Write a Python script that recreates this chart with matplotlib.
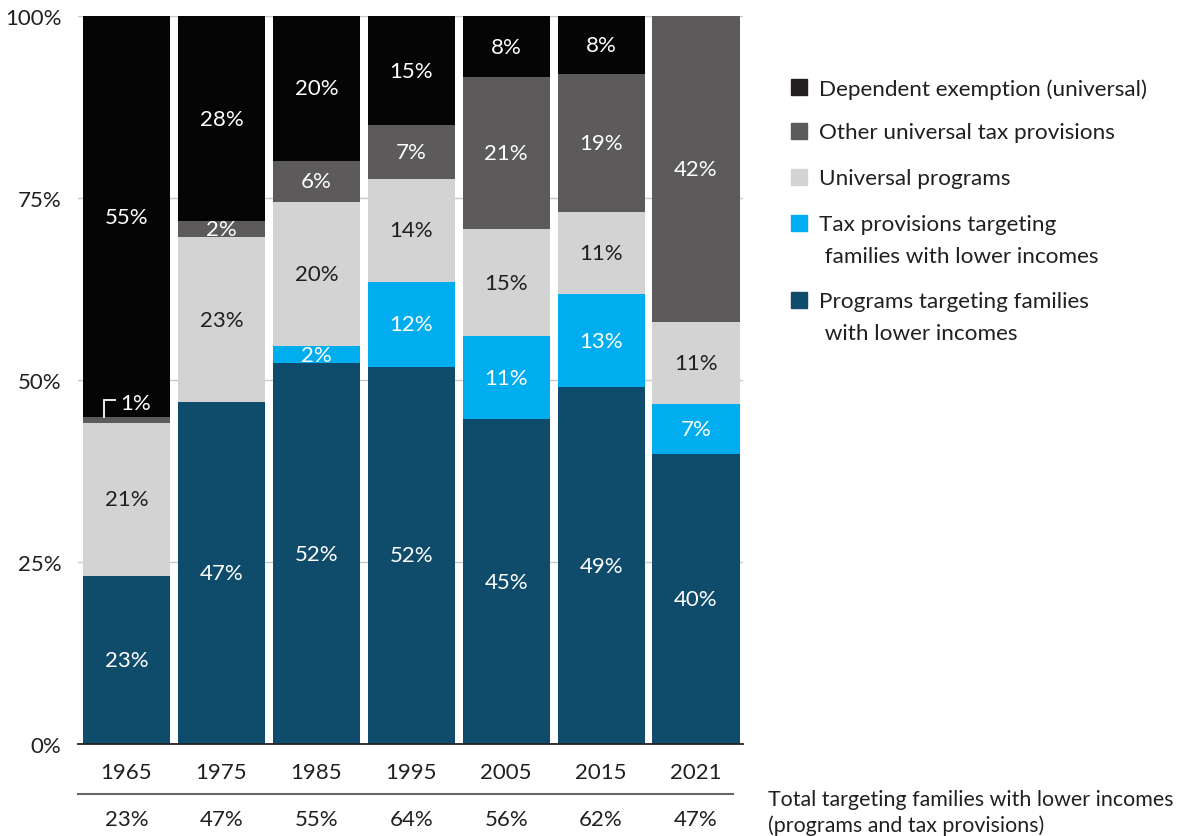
import matplotlib
matplotlib.use('Agg')
import matplotlib.pyplot as plt
import matplotlib.transforms as mtransforms
from matplotlib.patches import Rectangle
import numpy as np

plt.rcParams['font.family'] = ['Lato', 'DejaVu Sans']

years = ['1965', '1975', '1985', '1995', '2005', '2015', '2021']
programs_targeted = [23.1, 47.0, 52.3, 51.8, 44.6, 49.0, 39.8]
tax_targeted = [0.0, 0.0, 2.4, 11.7, 11.4, 12.8, 6.9]
universal_programs = [21.0, 22.6, 19.8, 14.1, 14.7, 11.3, 11.3]
other_universal_tax = [0.8, 2.2, 5.6, 7.4, 20.9, 18.9, 42.0]
dependent_exemption = [55.1, 28.2, 19.9, 15.0, 8.4, 8.0, 0.0]
total_targeted = ['23%', '47%', '55%', '64%', '56%', '62%', '47%']

series = [
    ('Programs targeting families\n with lower incomes', programs_targeted, '#0f4c6b', 'white'),
    ('Tax provisions targeting\n families with lower incomes', tax_targeted, '#00aeef', 'white'),
    ('Universal programs', universal_programs, '#d3d3d3', '#231f20'),
    ('Other universal tax provisions', other_universal_tax, '#5c5a5b', 'white'),
    ('Dependent exemption (universal)', dependent_exemption, '#050505', 'white'),
]
text_color = '#231f20'
fs = 16

fig = plt.figure(figsize=(11.84, 8.37), dpi=100)
W, H = 1184, 837
ax = fig.add_axes([78 / W, 1 - 745 / H, (743 - 78) / W, (745 - 17) / H])

x = np.arange(len(years))
bar_width = 0.917
bottom = np.zeros(len(years))
for label, vals, color, tcolor in series:
    vals = np.array(vals)
    ax.bar(x, vals, bar_width, bottom=bottom, color=color, zorder=2)
    for i, v in enumerate(vals):
        if v >= 1.5:
            ax.text(x[i], bottom[i] + v / 2, f'{v:.0f}%', ha='center', va='center',
                    color=tcolor, fontsize=fs, zorder=3)
    bottom += vals

# small 1965 segment: bracket label
seg_top = programs_targeted[0] + tax_targeted[0] + universal_programs[0] + other_universal_tax[0]
ax.plot([x[0] - 0.237, x[0] - 0.237, x[0] - 0.121], [seg_top, seg_top + 2.4, seg_top + 2.4],
        color='white', lw=1.3, zorder=3, solid_joinstyle='miter')
ax.text(x[0] - 0.07, seg_top + 2.0, f'{other_universal_tax[0]:.0f}%', ha='left', va='center',
        color='white', fontsize=fs, zorder=3)

ax.set_xlim(-0.511, 6.495)
ax.set_ylim(0, 100)
ax.set_yticks([0, 25, 50, 75, 100])
ax.set_yticklabels(['0%', '25%', '50%', '75%', '100%'])
ax.set_xticks(x)
ax.set_xticklabels(years)
ax.tick_params(axis='y', length=0, pad=12, labelsize=fs, labelcolor=text_color)
ax.tick_params(axis='x', length=0, pad=13, labelsize=fs, labelcolor=text_color)
ax.grid(axis='y', color='#c8c8c8', lw=1, zorder=0)
ax.set_axisbelow(True)
for side in ['top', 'right', 'left']:
    ax.spines[side].set_visible(False)
ax.spines['bottom'].set_color('#222222')
ax.spines['bottom'].set_linewidth(1.3)
ax.spines['bottom'].set_zorder(4)

# totals row
trans = mtransforms.blended_transform_factory(ax.transData, ax.transAxes)
ax.plot([0, 0.985], [-0.0687, -0.0687], transform=ax.transAxes, color='#666666', lw=1.5, clip_on=False)
for i, t in enumerate(total_targeted):
    ax.text(x[i], -0.103, t, transform=trans, ha='center', va='center', fontsize=fs, color=text_color)
fig.text(768 / W, 1 - 813 / H, 'Total targeting families with lower incomes\n(programs and tax provisions)',
         ha='left', va='center', fontsize=15.4, color=text_color, linespacing=1.38)

# legend
legend_rows = [(88, 4), (132, 3), (178, 2), (224, 1), (301, 0)]
legend_colors = ['#231f20', '#5c5a5b', '#d3d3d3', '#00aeef', '#0f4c6b']
for (y, idx), c in zip(legend_rows, legend_colors):
    fig.add_artist(Rectangle((791 / W, 1 - (y + 8) / H), 16 / W, 16 / H, color=c,
                             transform=fig.transFigure))
    fig.text(819 / W, 1 - (y - 9) / H, series[idx][0], ha='left', va='top', fontsize=16.2,
             color=text_color, linespacing=1.72)

fig.savefig('out.png', dpi=100)
